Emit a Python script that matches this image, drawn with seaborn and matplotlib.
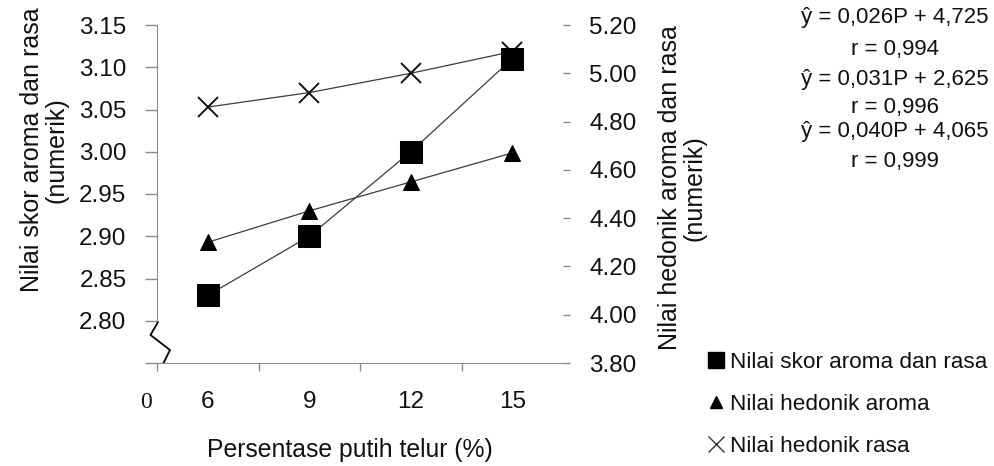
import numpy as np
import pandas as pd
import matplotlib
matplotlib.use("Agg")
import matplotlib.pyplot as plt
import seaborn as sns
from matplotlib.lines import Line2D

# ---------------- data ----------------
categories = ["6", "9", "12", "15"]
skor_aroma_rasa = [2.83, 2.90, 3.00, 3.11]      # left axis
hedonik_aroma = [4.30, 4.43, 4.55, 4.67]        # right axis
hedonik_rasa = [4.86, 4.92, 5.00, 5.09]         # right axis
left_ticks = [2.80, 2.85, 2.90, 2.95, 3.00, 3.05, 3.10, 3.15]
right_ticks = [3.80, 4.00, 4.20, 4.40, 4.60, 4.80, 5.00, 5.20]
series_labels = ["Nilai skor aroma dan rasa", "Nilai hedonik aroma", "Nilai hedonik rasa"]
equations = ["ŷ = 0,026P + 4,725", "r = 0,994",
             "ŷ = 0,031P + 2,625", "r = 0,996",
             "ŷ = 0,040P + 4,065", "r = 0,999"]

sns.set_style("white")
plt.rcParams["font.family"] = ["Liberation Sans", "DejaVu Sans"]

W, H = 994, 466
fig = plt.figure(figsize=(W / 100, H / 100), dpi=100)
ax_l, ax_r, ax_t, ax_b = 157, 563, 25, 363
ax = fig.add_axes([ax_l / W, (H - ax_b) / H, (ax_r - ax_l) / W, (ax_b - ax_t) / H])
ax2 = ax.twinx()
ax.set_zorder(ax2.get_zorder() + 1)
ax.patch.set_visible(False)

df = pd.DataFrame({"pos": np.arange(len(categories)),
                   "skor": skor_aroma_rasa,
                   "aroma": hedonik_aroma,
                   "rasa": hedonik_rasa})

line_c = "#3c3c3c"
spine_c = "#8c8c8c"
text_c = "#111111"

sns.lineplot(data=df, x="pos", y="skor", ax=ax, color=line_c, linewidth=0.9,
             marker="s", markersize=16, markerfacecolor="black", markeredgecolor="black")
sns.lineplot(data=df, x="pos", y="aroma", ax=ax2, color=line_c, linewidth=0.9,
             marker="^", markersize=12, markerfacecolor="black", markeredgecolor="black")
sns.lineplot(data=df, x="pos", y="rasa", ax=ax2, color=line_c, linewidth=0.9,
             marker="x", markersize=14, markeredgewidth=1.4, markeredgecolor="#111111")

# axes limits / ticks
ax.set_xlim(-0.5, len(categories) - 0.5)
ax.set_ylim(2.75, 3.15)
ax2.set_ylim(3.80, 5.20)

ax.set_yticks([2.75] + left_ticks)
ax.set_yticklabels([""] + [f"{v:.2f}" for v in left_ticks])
ax2.set_yticks(right_ticks)
ax2.set_yticklabels([f"{v:.2f}" for v in right_ticks])

ax.set_xticks(np.arange(len(categories)) - 0.5)
ax.set_xticklabels([])
ax.set_xticks(np.arange(len(categories)), minor=True)
ax.set_xticklabels(categories, minor=True)

ax.tick_params(axis="x", which="major", bottom=True, length=6, width=1, color=spine_c, direction="out")
ax.tick_params(axis="x", which="minor", bottom=True, length=0, pad=20, labelsize=17.5, labelcolor=text_c)
ax.tick_params(axis="y", left=True, length=9, width=1, color=spine_c, pad=13, labelsize=17.5,
               labelcolor=text_c, direction="out")
ax2.tick_params(axis="y", right=True, length=5, width=1, color=spine_c, pad=14, labelsize=17.5,
                labelcolor=text_c, direction="out")

for s in ["top", "right"]:
    ax.spines[s].set_visible(False)
for s in ["top", "right", "left", "bottom"]:
    ax2.spines[s].set_visible(False)
ax.spines["left"].set_color(spine_c)
ax.spines["bottom"].set_color(spine_c)
ax.spines["left"].set_bounds(2.80, 3.15)

# axis labels
ax.set_xlabel("Persentase putih telur (%)", fontsize=17.8, color=text_c)
ax.xaxis.set_label_coords((350 - ax_l) / (ax_r - ax_l), (ax_b - 438) / (ax_b - ax_t))
ax.set_ylabel("Nilai skor aroma dan rasa\n(numerik)", fontsize=18, color=text_c, linespacing=1.0)
ax.yaxis.label.set_va("center")
ax.yaxis.set_label_coords((44 - ax_l) / (ax_r - ax_l), (ax_b - 150) / (ax_b - ax_t))
ax2.set_ylabel("Nilai hedonik aroma dan rasa\n(numerik)", fontsize=18, color=text_c, linespacing=1.05)
ax2.yaxis.label.set_va("center")
ax2.yaxis.set_label_coords((682 - ax_l) / (ax_r - ax_l), (ax_b - 188) / (ax_b - ax_t))

# axis break mark and "0" origin label
def to_ax(px, py):
    return (px - ax_l) / (ax_r - ax_l), (ax_b - py) / (ax_b - ax_t)
brk = [to_ax(158, 322), to_ax(150.5, 335), to_ax(170, 350), to_ax(163.5, 363)]
ax.plot([p[0] for p in brk], [p[1] for p in brk], transform=ax.transAxes,
        clip_on=False, color="black", lw=1.3)
ox, oy = to_ax(146, 403)
ax.text(ox, oy, "0", transform=ax.transAxes, ha="center", va="center",
        fontsize=17, family=["Liberation Serif", "DejaVu Serif"], color=text_c)

# regression equations
eq_y = [18, 50, 80, 107, 132, 162]
for t, yy in zip(equations, eq_y):
    fig.text(895 / W, 1 - yy / H, t, ha="center", va="center", fontsize=16, color=text_c)

# legend
handles = [Line2D([], [], marker="s", ls="none", color="black", markersize=11),
           Line2D([], [], marker="^", ls="none", color="black", markersize=9),
           Line2D([], [], marker="x", ls="none", color="#333333", markersize=11, markeredgewidth=1.0)]
fig.legend(handles, series_labels, loc="upper left", bbox_to_anchor=(707 / W, 1 - 352 / H),
           frameon=False, fontsize=16.2, handlelength=0.8, handletextpad=0.2,
           labelspacing=0.93, borderaxespad=0, borderpad=0, labelcolor=text_c)

fig.savefig("out.png", dpi=100)
